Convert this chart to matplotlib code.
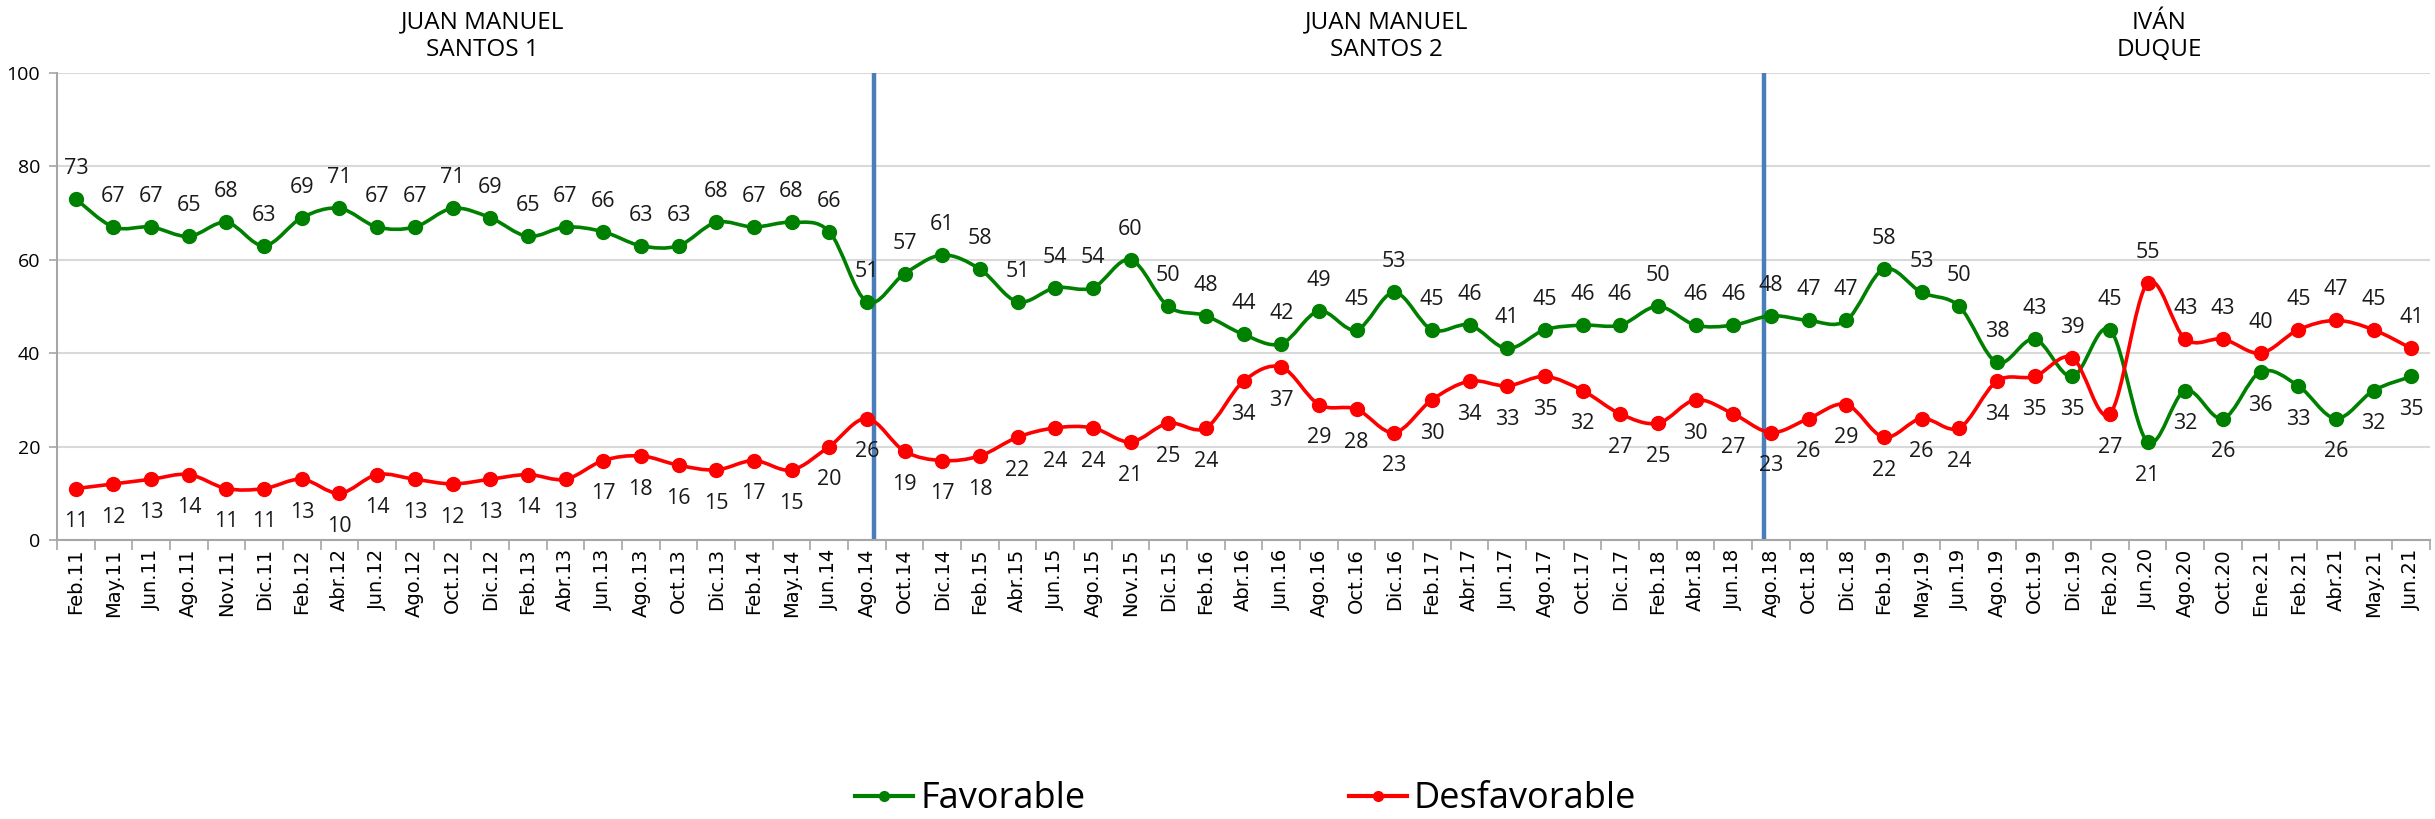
import numpy as np
import matplotlib.pyplot as plt
from matplotlib.path import Path
from matplotlib.patches import PathPatch
from matplotlib.lines import Line2D

months = ["Feb.11", "May.11", "Jun.11", "Ago.11", "Nov.11", "Dic.11",
          "Feb.12", "Abr.12", "Jun.12", "Ago.12", "Oct.12", "Dic.12",
          "Feb.13", "Abr.13", "Jun.13", "Ago.13", "Oct.13", "Dic.13",
          "Feb.14", "May.14", "Jun.14", "Ago.14", "Oct.14", "Dic.14",
          "Feb.15", "Abr.15", "Jun.15", "Ago.15", "Nov.15", "Dic.15",
          "Feb.16", "Abr.16", "Jun.16", "Ago.16", "Oct.16", "Dic.16",
          "Feb.17", "Abr.17", "Jun.17", "Ago.17", "Oct.17", "Dic.17",
          "Feb.18", "Abr.18", "Jun.18", "Ago.18", "Oct.18", "Dic.18",
          "Feb.19", "May.19", "Jun.19", "Ago.19", "Oct.19", "Dic.19",
          "Feb.20", "Jun.20", "Ago.20", "Oct.20",
          "Ene.21", "Feb.21", "Abr.21", "May.21", "Jun.21"]

favorable = [73, 67, 67, 65, 68, 63, 69, 71, 67, 67, 71, 69, 65, 67, 66, 63,
             63, 68, 67, 68, 66, 51, 57, 61, 58, 51, 54, 54, 60, 50, 48, 44,
             42, 49, 45, 53, 45, 46, 41, 45, 46, 46, 50, 46, 46, 48, 47, 47,
             58, 53, 50, 38, 43, 35, 45, 21, 32, 26, 36, 33, 26, 32, 35]

desfavorable = [11, 12, 13, 14, 11, 11, 13, 10, 14, 13, 12, 13, 14, 13, 17, 18,
                16, 15, 17, 15, 20, 26, 19, 17, 18, 22, 24, 24, 21, 25, 24, 34,
                37, 29, 28, 23, 30, 34, 33, 35, 32, 27, 25, 30, 27, 23, 26, 29,
                22, 26, 24, 34, 35, 39, 27, 55, 43, 43, 40, 45, 47, 45, 41]

# where the labels swap sides (lines crossed)
swapped = ["Dic.19", "Jun.20", "Ago.20", "Oct.20", "Ene.21", "Feb.21",
           "Abr.21", "May.21", "Jun.21"]

periods = ["JUAN MANUEL\nSANTOS 1", "JUAN MANUEL\nSANTOS 2", "IVÁN\nDUQUE"]
period_pos = [10.8, 34.8, 55.3]
period_breaks = [21.19, 44.82]

GREEN = "#008000"
RED = "#FF0000"
BLUE = "#4A7EBB"
LBL_FONT = ["Open Sans", "DejaVu Sans"]


def smooth_path(x, y):
    # excel style smoothed line: cubic bezier through the points
    pts = np.column_stack([x, y]).astype(float)
    pad = np.vstack([pts[0], pts, pts[-1]])
    verts = [pts[0]]
    codes = [Path.MOVETO]
    for i in range(len(pts) - 1):
        p0, p1, p2, p3 = pad[i], pad[i+1], pad[i+2], pad[i+3]
        verts += [p1 + (p2 - p0) / 6, p2 - (p3 - p1) / 6, p2]
        codes += [Path.CURVE4] * 3
    return Path(verts, codes)


fig = plt.figure(figsize=(24.35, 8.19), dpi=100, facecolor="white")
ax = fig.add_axes([0.0234, 0.3407, 0.9746, 0.5703])

x = np.arange(len(months))
ax.set_xlim(-0.5, len(months) - 0.5)
ax.set_ylim(0, 100)

ax.set_yticks(range(0, 101, 20))
ax.grid(axis="y", color="#D9D9D9", lw=1.5)
ax.set_axisbelow(True)

for b in period_breaks:
    ax.axvline(b, color=BLUE, lw=3.2, zorder=2)

for vals, col in [(favorable, GREEN), (desfavorable, RED)]:
    ax.add_patch(PathPatch(smooth_path(x, vals), facecolor="none",
                           edgecolor=col, lw=2.6, zorder=3))
    ax.plot(x, vals, "o", color=col, ms=10, zorder=4)

for i, m in enumerate(months):
    fav_up = m not in swapped
    desf_up = m in swapped
    ax.annotate(str(favorable[i]), (i, favorable[i]),
                xytext=(0, 22 if fav_up else -24), textcoords="offset points",
                ha="center", va="center", fontsize=15.5, family=LBL_FONT,
                color="#1a1a1a", zorder=5)
    ax.annotate(str(desfavorable[i]), (i, desfavorable[i]),
                xytext=(0, 22 if desf_up else -24), textcoords="offset points",
                ha="center", va="center", fontsize=15.5, family=LBL_FONT,
                color="#1a1a1a", zorder=5)

for txt, px in zip(periods, period_pos):
    ax.text(px, 107.8, txt, ha="center", va="center", fontsize=17.5,
            family=LBL_FONT, linespacing=1.2, clip_on=False)

ax.set_xticks(x)
ax.set_xticklabels(months, rotation=90, fontsize=14, family="DejaVu Sans")
ax.set_xticks(np.arange(-0.5, len(months), 1), minor=True)
ax.tick_params(axis="x", which="major", length=0, pad=6)
ax.tick_params(axis="x", which="minor", length=7, color="#A6A6A6", width=1.2)
ax.tick_params(axis="y", length=6, color="#A6A6A6", width=1.2,
               labelsize=14, pad=6)
for lbl in ax.get_yticklabels():
    lbl.set_family(LBL_FONT)

for s in ["top", "right"]:
    ax.spines[s].set_visible(False)
for s in ["left", "bottom"]:
    ax.spines[s].set_color("#A6A6A6")
    ax.spines[s].set_linewidth(1.5)

handles = [Line2D([], [], color=GREEN, lw=3, marker="o", ms=7),
           Line2D([], [], color=RED, lw=3, marker="o", ms=7)]
fig.legend(handles, ["Favorable", "Desfavorable"], loc="center",
           bbox_to_anchor=(0.5116, 0.024), ncol=2, frameon=False,
           prop={"family": LBL_FONT, "size": 26},
           handlelength=1.6, handletextpad=0.2, columnspacing=7.3)

fig.savefig("out.png", dpi=100, facecolor="white")
